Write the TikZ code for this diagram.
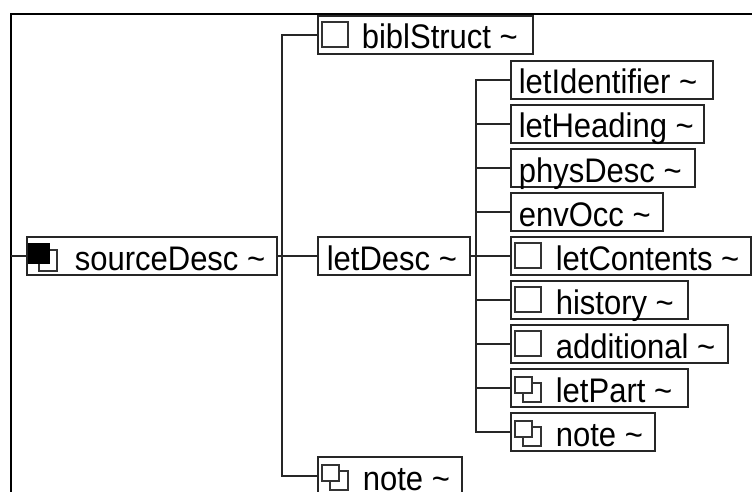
\documentclass[tikz,border=0pt]{standalone}
\usepackage{fontspec}
\usepackage{graphicx}
\setmainfont{Liberation Sans}
\newcommand\lblbox[3]{\makebox[#1pt][l]{\hspace*{#2pt}\scalebox{1}[1.1]{#3}}}
\begin{document}
\begin{tikzpicture}[x=1pt,y=-1pt,
  elem/.style={draw=black!85, line width=1.7pt, inner xsep=0pt, inner ysep=0pt,
    text height=33pt, text depth=5pt, anchor=west, fill=white,
    font=\fontsize{31}{36}\selectfont},
  conn/.style={draw=black!85, line width=1.7pt},
  icon/.style={draw=black!80, line width=1.4pt}]
\useasboundingbox (0,0) rectangle (752,492);
% frame
\draw[line width=2pt] (11,492) -- (11,14) -- (752,14);
\coordinate (frame) at (11,0);
\coordinate (busA) at (282,0);
\coordinate (busB) at (476,0);

% nodes
\node[elem] (sourceDesc) at (26,256) {\lblbox{250}{48}{sourceDesc \textasciitilde}};
\node[elem] (biblStruct) at (317,35) {\lblbox{215}{44}{biblStruct \textasciitilde}};
\node[elem] (letDesc) at (317,256) {\lblbox{152}{9}{letDesc \textasciitilde}};
\node[elem] (noteA) at (317,476) {\lblbox{144}{45}{note \textasciitilde}};

\node[elem] (letIdentifier) at (510,80) {\lblbox{202}{8}{letIdentifier \textasciitilde}};
\node[elem] (letHeading) at (510,124) {\lblbox{193}{8}{letHeading \textasciitilde}};
\node[elem] (physDesc) at (510,168) {\lblbox{184}{8}{physDesc \textasciitilde}};
\node[elem] (envOcc) at (510,212) {\lblbox{152}{8}{envOcc \textasciitilde}};
\node[elem] (letContents) at (510,256) {\lblbox{240}{45}{letContents \textasciitilde}};
\node[elem] (history) at (510,300) {\lblbox{177}{45}{history \textasciitilde}};
\node[elem] (additional) at (510,344) {\lblbox{217}{45}{additional \textasciitilde}};
\node[elem] (letPart) at (510,388) {\lblbox{177}{45}{letPart \textasciitilde}};
\node[elem] (noteB) at (510,432) {\lblbox{144}{45}{note \textasciitilde}};

% icons
\draw[icon] ([shift={(13,-6)}]sourceDesc.west) rectangle ([shift={(31,15)}]sourceDesc.west);
\fill[black] ([shift={(2,-13)}]sourceDesc.west) rectangle ([shift={(24,8)}]sourceDesc.west);
\foreach \n in {biblStruct,letContents,history,additional}{
  \draw[icon] ([shift={(5,-13)}]\n.west) rectangle ([shift={(31,12)}]\n.west);
}
\foreach \n in {noteA,letPart,noteB}{
  \draw[icon] ([shift={(13,-5)}]\n.west) rectangle ([shift={(31,14)}]\n.west);
  \draw[icon,fill=white] ([shift={(5,-11)}]\n.west) rectangle ([shift={(22,5)}]\n.west);
}

% connectors
\draw[conn] (frame |- sourceDesc.west) -- (sourceDesc.west);
\foreach \c in {biblStruct,letDesc,noteA}{
  \draw[conn] (sourceDesc.east) -- (busA |- sourceDesc.east) |- (\c.west);
}
\foreach \c in {letIdentifier,letHeading,physDesc,envOcc,letContents,history,additional,letPart,noteB}{
  \draw[conn] (letDesc.east) -- (busB |- letDesc.east) |- (\c.west);
}
\end{tikzpicture}
\end{document}
